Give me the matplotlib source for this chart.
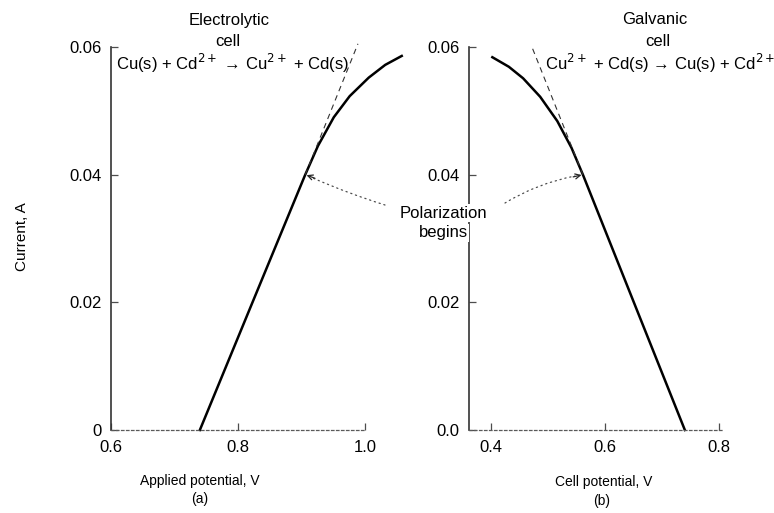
import matplotlib
matplotlib.use("Agg")
import matplotlib.pyplot as plt

plt.rcParams['font.family'] = ['Liberation Sans', 'DejaVu Sans']

# (a) electrolytic cell: applied potential (V) vs current (A)
elec_v = [0.740, 0.820, 0.906, 0.926, 0.951, 0.976, 1.006, 1.032, 1.058]
elec_i = [0.0, 0.0193, 0.0400, 0.0445, 0.0490, 0.0523, 0.0552, 0.0572, 0.0586]
elec_tangent_v = [0.906, 0.989]
elec_tangent_i = [0.040, 0.0605]

# (b) galvanic cell: cell potential (V) vs current (A)
galv_v = [0.402, 0.431, 0.456, 0.486, 0.516, 0.541, 0.561, 0.650, 0.740]
galv_i = [0.0584, 0.0569, 0.0551, 0.0522, 0.0484, 0.0442, 0.0400, 0.0201, 0.0]
galv_tangent_v = [0.561, 0.4715]
galv_tangent_i = [0.040, 0.060]

polarization_point_a = (0.906, 0.040)
polarization_point_b = (0.561, 0.040)

y_ticks = [0, 0.02, 0.04, 0.06]
y_labels_a = ["0", "0.02", "0.04", "0.06"]
y_labels_b = ["0.0", "0.02", "0.04", "0.06"]
x_ticks_a = [0.6, 0.8, 1.0]
x_labels_a = ["0.6", "0.8", "1.0"]
x_ticks_b = [0.4, 0.6, 0.8]
x_labels_b = ["0.4", "0.6", "0.8"]

W, H = 774, 513
fig = plt.figure(figsize=(W / 100, H / 100), dpi=100)


def px(x, y):
    # pixel position (from top-left) -> figure fraction
    return x / W, 1 - y / H


ax_a = fig.add_axes([111 / W, 83 / H, 292 / W, 383 / H])
ax_b = fig.add_axes([469 / W, 83 / H, 254 / W, 383 / H])

for ax in (ax_a, ax_b):
    ax.patch.set_visible(False)
    ax.spines['top'].set_visible(False)
    ax.spines['right'].set_visible(False)
    ax.spines['left'].set_color('0.2')
    ax.spines['left'].set_linewidth(1.2)
    ax.spines['bottom'].set_color('0.35')
    ax.spines['bottom'].set_linestyle((0, (2, 2)))
    ax.spines['bottom'].set_linewidth(0.9)
    ax.set_ylim(0, 0.06)
    ax.set_yticks(y_ticks)
    ax.tick_params(direction='in', length=5, width=0.9, color='0.3',
                   labelsize=12, pad=7)

ax_a.set_xlim(0.6, 1.06)
ax_a.spines['bottom'].set_bounds(0.6, 1.0)
ax_a.set_xticks(x_ticks_a)
ax_a.set_xticklabels(x_labels_a)
ax_a.set_yticklabels(y_labels_a)

ax_b.set_xlim(0.361, 0.807)
ax_b.set_xticks(x_ticks_b)
ax_b.set_xticklabels(x_labels_b)
ax_b.set_yticklabels(y_labels_b)

ax_a.plot(elec_v, elec_i, color='black', lw=1.8, clip_on=False)
ax_a.plot(elec_tangent_v, elec_tangent_i, color='0.2', lw=0.8, ls=(0, (5, 4)), clip_on=False)
ax_b.plot(galv_v, galv_i, color='black', lw=1.8, clip_on=False)
ax_b.plot(galv_tangent_v, galv_tangent_i, color='0.2', lw=0.8, ls=(0, (5, 4)), clip_on=False)

# titles and reactions
fig.text(*px(229, 20), "Electrolytic", ha='center', va='center', fontsize=12)
fig.text(*px(228, 42), "cell", ha='center', va='center', fontsize=12)
fig.text(*px(233, 63), r"Cu(s) + Cd$^{2+}$ → Cu$^{2+}$ + Cd(s)",
         ha='center', va='center', fontsize=12)
fig.text(*px(655, 20), "Galvanic", ha='center', va='center', fontsize=12)
fig.text(*px(658, 42), "cell", ha='center', va='center', fontsize=12)
fig.text(*px(660, 63), r"Cu$^{2+}$ + Cd(s) → Cu(s) + Cd$^{2+}$",
         ha='center', va='center', fontsize=12)

# axis labels
fig.text(*px(22, 237), "Current, A", rotation=90, ha='center', va='center', fontsize=11)
fig.text(*px(200, 481), "Applied potential, V", ha='center', va='center', fontsize=10)
fig.text(*px(200, 499), "(a)", ha='center', va='center', fontsize=10)
fig.text(*px(604, 482), "Cell potential, V", ha='center', va='center', fontsize=10)
fig.text(*px(602, 501), "(b)", ha='center', va='center', fontsize=10)

# polarization label with dotted leaders and small arrowheads
fig.text(*px(443, 213), "Polarization", ha='center', va='center', fontsize=12,
         bbox=dict(facecolor='white', edgecolor='none', pad=1))
fig.text(*px(443, 233), "begins", ha='center', va='center', fontsize=12,
         bbox=dict(facecolor='white', edgecolor='none', pad=1))

leader = dict(arrowstyle='-', color='0.3', lw=0.9, linestyle=(0, (1, 3)),
              shrinkA=0, shrinkB=6)
head = dict(arrowstyle='->', color='0.15', lw=0.9, shrinkA=0, shrinkB=1,
            mutation_scale=9)
ax_a.annotate("", xy=polarization_point_a, xycoords='data',
              xytext=px(385, 205), textcoords='figure fraction',
              arrowprops=dict(leader, connectionstyle="arc3,rad=-0.03"))
ax_a.annotate("", xy=polarization_point_a, xycoords='data',
              xytext=(7, -2.6), textcoords='offset points', arrowprops=head)
ax_b.annotate("", xy=polarization_point_b, xycoords='data',
              xytext=px(505, 203), textcoords='figure fraction',
              arrowprops=dict(leader, connectionstyle="arc3,rad=-0.1"))
ax_b.annotate("", xy=polarization_point_b, xycoords='data',
              xytext=(-7, -1.6), textcoords='offset points', arrowprops=head)

fig.savefig("out.png", dpi=100)
